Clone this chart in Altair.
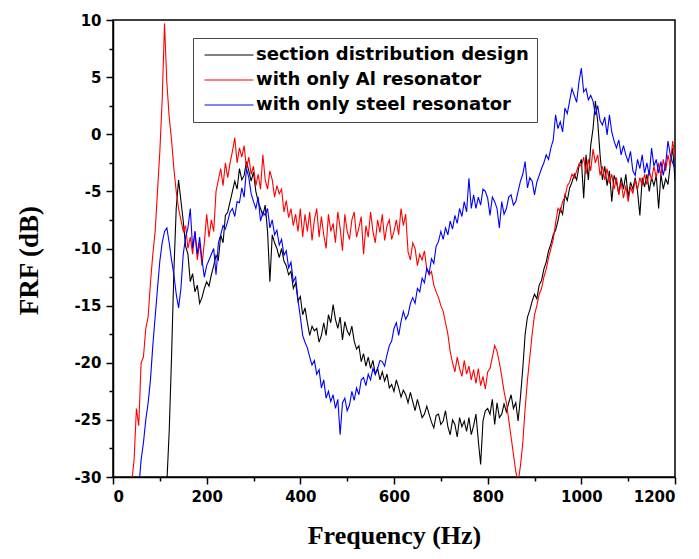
import altair as alt
import pandas as pd

# Frequency grid (Hz), one value every 5 Hz from 0 to 1200
FREQ = list(range(0, 1201, 5))

N = None
# Values (dB); rows of 10 values = 50 Hz each
SECTION = [
    N, N, N, N, N, N, N, N, N, N,                                   # 0-45
    N, N, N, N, N, N, N, N, N, N,                                   # 50-95
    N, N, N, -30.5, -26, -19.5, -12, -6.5, -4, -5.8,                # 100-145
    -7.6, -9.8, -10.5, -12.9, -12.2, -13.8, -13.2, -14.8, -14.3, -13.5,  # 150
    -12.9, -13.3, -12.3, -11.5, -10.6, -11, -8.8, -9.5, -7.1, -6.8,  # 200
    -5.9, -5, -4.1, -4.8, -3, -4, -3.6, -2.4, -3.2, -4.1,           # 250
    -3.3, -5, -5.9, -6.5, -7.1, -6.2, -8.5, -12.9, -8.8, -9.5,      # 300
    -10, -10.8, -10, -11.1, -11.5, -12.3, -12, -13.5, -13, -14.6,   # 350
    -14.2, -15.8, -15.2, -16.5, -17.6, -16.8, -17.2, -17, -18.2, -17.6,  # 400
    -16.5, -17.6, -15.8, -16.5, -14.9, -16.2, -17, -16, -18, -16.4,  # 450
    -17.2, -17.6, -16.8, -18.1, -18.8, -18.5, -19.9, -19.2, -20.3, -19.5,  # 500
    -20.5, -19.8, -21, -20.5, -21.5, -20.8, -21.6, -21, -22.2, -21.9,  # 550
    -22.5, -21.5, -22.2, -23, -22.4, -22.8, -23.5, -22.6, -23.4, -24.2,  # 600
    -23.2, -24, -24.8, -24.5, -23.8, -24.5, -25.2, -25.7, -24.6, -24.5,  # 650
    -25.4, -25.1, -24.2, -25.6, -26.3, -25, -25.4, -26.5, -24.8, -25.6,  # 700
    -25.1, -26, -24.8, -26.3, -25.5, -24.5, -26.8, -28.9, -25.1, -24.2,  # 750
    -24, -24.5, -23.2, -25.4, -23.5, -24.8, -24.5, -23.6, -24.3, -23.5,  # 800
    -22.8, -24, -23.5, -25.1, -23, -20.5, -17.5, -16, -15.4, -14.6,  # 850
    -14, -14.4, -13.2, -12.8, -11.8, -11.2, -10.2, -9.6, -8.8, -8.4,  # 900
    -7.6, -6.5, -7, -5.3, -5.8, -4.7, -4.2, -3.5, -4, -2.8,         # 950
    -2.2, -5.6, -1.8, -4, -1, 0.5, 2.9, 1.1, -1.8, -4,              # 1000
    -2.8, -4.5, -3.2, -5.9, -3.6, -4.2, -5.2, -3.8, -4.8, -3.5,     # 1050
    -5.5, -4.2, -4.8, -3.8, -5, -7.1, -3.8, -4.6, -3.5, -5,         # 1100
    -3.8, -4.5, -3.6, -6.5, -3.5, -4.8, -3.9, -4.4, -2.6, -1.2,     # 1150
    -4,                                                             # 1200
]

AL = [
    N, N, N, N, N, N, N, N, -30.5, -28.5,                           # 0-45
    -24, -25.5, -20, -19.5, -17, -16, -13, -10.5, -8.5, -5,         # 50
    -1.5, 3, 9.7, 4.5, 1.5, -0.5, -3, -5, -6.5, -7.5,               # 100
    -8.5, -8, -10, -9, -10.5, -8.5, -11, -9.5, -11.5, -9.5,         # 150
    -7, -9, -7.5, -8.5, -5, -4, -3, -4.5, -2.5, -3.8,               # 200
    -2.5, -1.5, -0.3, -2.5, -1.2, -2, -1, -3, -2, -3.5,             # 250
    -2.8, -4.5, -3.5, -4.8, -1.8, -4, -4.8, -3.2, -4, -5.5,         # 300
    -4.5, -5.2, -4.8, -6.8, -5.8, -7.3, -6.5, -8, -7, -8.5,         # 350
    -6.5, -9, -7, -8.5, -6.8, -9.3, -7.5, -6.5, -9, -7.2,           # 400
    -8.8, -10, -7, -8.5, -7.8, -9.5, -6.8, -8.2, -10.2, -7,         # 450
    -8.5, -9.2, -7.5, -6.8, -9, -8.2, -7.2, -10.5, -8, -9,          # 500
    -6.8, -8.5, -9.5, -7.5, -8.6, -7, -9.3, -8, -7.5, -9.2,         # 550
    -8.5, -7.5, -8.8, -6.5, -8, -7, -10.3, -11, -9.5, -10,          # 600
    -11.5, -10.5, -11, -10.2, -11.8, -12.3, -12, -13.2, -13.8, -14.3,  # 650
    -15, -15.5, -16.5, -17.5, -19, -20, -20.8, -19.5, -20.5, -21.2,  # 700
    -19.8, -21, -20.3, -21.5, -20.6, -21.8, -20.5, -22, -21.2, -22.3,  # 750
    -20.8, -20.5, -19.5, -18.5, -19, -20, -21.2, -22.5, -23.5, -25,  # 800
    -26.5, -28, -29.5, -30.5, -29, -27, -24, -21.5, -19.5, -17.5,   # 850
    -15.8, -15, -14, -13.5, -12.5, -11.8, -10.8, -10, -9.2, -7.8,   # 900
    -6.5, -6.8, -5.9, -5.5, -4.5, -4.2, -3.5, -3.8, -3.2, -2.6,     # 950
    -2.8, -2, -3.5, -2.2, -3.2, -1.3, -2.5, -1.8, -3.6, -2.8,       # 1000
    -4, -3, -4.3, -3.5, -4.8, -3.8, -5.3, -4.2, -5.6, -4.5,         # 1050
    -5.9, -4.6, -5.2, -4, -4.8, -3.8, -4.5, -3.5, -4.4, -3.2,       # 1100
    -4, -2.8, -3.8, -2.5, -3.6, -2.2, -3.2, -1.8, -2.8, -0.6,       # 1150
    -2,                                                             # 1200
]

STEEL = [
    N, N, N, N, N, N, N, N, N, N,                                   # 0-45
    N, -31, -28.5, -27, -25, -23.5, -21.5, -18.5, -16, -13.5,       # 50
    -11.1, -9.5, -8.5, -8.2, -9.5, -11, -12.3, -14, -15.2, -13.5,   # 100
    -10.5, -9, -8.2, -6.5, -10, -8.5, -10.5, -9, -11, -12.5,        # 150
    -11.5, -11, -10.5, -10, -12.3, -9.5, -8.8, -8, -8.3, -7.6,      # 200
    -6.8, -6.5, -7.2, -5.9, -6, -4.7, -5.5, -3, -3.8, -5.2,         # 250
    -5.9, -6.5, -5.5, -7.6, -6.8, -7.1, -6.5, -8.2, -7.5, -8.8,     # 300
    -8.4, -9.7, -9.2, -10.6, -10.2, -11.7, -11.2, -12.9, -12.5, -14.5,  # 350
    -16, -17.6, -18.2, -18.7, -19.5, -20.2, -19.8, -21, -20.6, -22.2,  # 400
    -21.5, -23.1, -22.5, -23.4, -22.8, -24, -23.2, -26.3, -23.5, -23.1,  # 450
    -24.2, -23.7, -22.5, -23.3, -22.2, -22.8, -21.5, -21.3, -22, -21,  # 500
    -21.5, -20.5, -21, -20.5, -19.8, -19.9, -20.3, -19.3, -18.5, -18.1,  # 550
    -17, -16.5, -17.6, -16.4, -15.5, -16.2, -15.8, -14.8, -14.3, -14.8,  # 600
    -13.5, -13.8, -12.6, -13, -11.7, -12.2, -10.9, -11.3, -9.8, -9.4,  # 650
    -8.5, -9.2, -8.2, -8.8, -7.6, -8.3, -7.1, -7.8, -6.5, -7.2,     # 700
    -5.9, -6.8, -3.85, -6.5, -5.3, -6.5, -5.5, -6.2, -4.8, -5,      # 750
    -5.6, -7.1, -5.5, -5.9, -6.5, -8.2, -5.9, -7, -6.5, -5.5,       # 800
    -5.3, -6.2, -5.9, -5, -4.1, -3.5, -2.4, -4.7, -3.8, -4.1,       # 850
    -5.3, -4.2, -3.6, -3, -2.5, -1.8, -2.2, -1.2, -0.5, 1.7,        # 900
    0.5, 1.1, 0.2, 2.3, 1.8, 2.9, 4, 3.4, 2.8, 4.6,                 # 950
    5.8, 3.7, 4, 3, 3.4, 2.9, 1.7, 2.5, 1.2, 0.8,                   # 1000
    1.5, -0.06, 1.7, 0.2, -0.6, -1.2, -0.5, -1.8, -1, -1.8,         # 1050
    -2.4, -1.5, -3.2, -3.6, -2.2, -3, -1.8, -3.4, -2.5, -3.6,       # 1100
    -1.2, -2.8, -2.2, -3.4, -2.4, -3.6, -2.6, -0.6, -1.8, -2.5,     # 1150
    -3,                                                             # 1200
]

NAMES = ["section distribution design", "with only Al resonator", "with only steel resonator"]
COLORS = ["#000000", "#ff0000", "#0000ff"]
SERIES = [SECTION, AL, STEEL]

X_TICKS = [0, 100, 200, 300, 400, 500, 600, 700, 800, 900, 1000, 1100, 1200]
Y_TICKS = [-30, -27.5, -25, -22.5, -20, -17.5, -15, -12.5, -10, -7.5, -5, -2.5,
           0, 2.5, 5, 7.5, 10]

rows = []
for name, vals in zip(NAMES, SERIES):
    for f, v in zip(FREQ, vals):
        if v is not None:
            rows.append({"f": f, "v": v, "s": name})
df = pd.DataFrame(rows)

xscale = alt.Scale(domain=[0, 1200], nice=False, zero=False)
yscale = alt.Scale(domain=[-30, 10], nice=False, zero=False)

chart = alt.Chart(df).mark_line(strokeWidth=1.1, clip=True).encode(
    x=alt.X("f:Q", scale=xscale,
            axis=alt.Axis(orient="bottom", values=X_TICKS, title="Frequency (Hz)",
                          labelExpr="datum.value % 200 === 0 ? '' + datum.value : ''",
                          tickSize={"condition": {"test": "datum.value % 200 !== 0", "value": 4},
                                    "value": 7},
                          labelPadding=5, grid=False,
                          titleFont="Liberation Serif", titleFontSize=26, titleFontWeight="bold",
                          titleBaseline="alphabetic", titleY=66, titleColor="black")),
    y=alt.Y("v:Q", scale=yscale,
            axis=alt.Axis(orient="left", values=Y_TICKS, title="FRF (dB)",
                          labelExpr="datum.value % 5 === 0 ? '' + datum.value : ''",
                          tickSize={"condition": {"test": "datum.value % 5 !== 0", "value": 4},
                                    "value": 7},
                          labelPadding=5, grid=False,
                          titleFont="Liberation Serif", titleFontSize=27, titleFontWeight="bold",
                          titleBaseline="alphabetic", titleAlign="center", titleAngle=-90,
                          titleX=-76, titleY=240, titleColor="black")),
    color=alt.Color("s:N", scale=alt.Scale(domain=NAMES, range=COLORS),
                    legend=alt.Legend(title=None, orient="none", legendX=80, legendY=18,
                                      symbolType="M-4.9,0H4.9", symbolSize=100,
                                      symbolStrokeWidth=1, symbolOffset=19,
                                      labelFont="DejaVu Sans", labelFontSize=18,
                                      labelFontWeight="bold", labelColor="black",
                                      labelOffset=18, rowPadding=7, padding=8,
                                      strokeColor="#444444", labelLimit=400)),
    order=alt.Order("f:Q"),
).properties(
    width=562, height=457,
    autosize=alt.AutoSizeParams(type="none"),
    padding={"left": 105, "top": 12, "right": 10, "bottom": 74},
).configure_view(stroke="black", strokeWidth=1.5).configure_axis(
    labelFont="DejaVu Sans", labelFontSize=15, labelFontWeight="bold", labelColor="black",
    domainColor="black", domainWidth=1.5, tickColor="black", tickWidth=1.5,
)

chart.save("out.html", embed_options={"renderer": "svg", "actions": False})
